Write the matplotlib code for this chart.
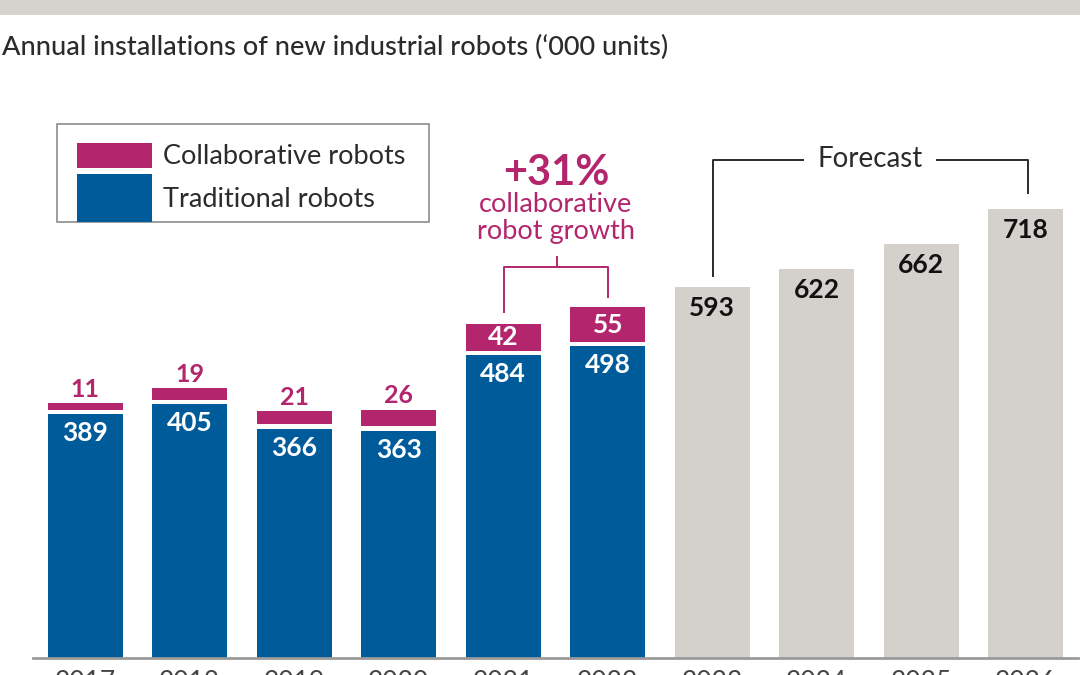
import matplotlib
matplotlib.use("Agg")
import matplotlib.pyplot as plt
from matplotlib.patches import Rectangle
from matplotlib.lines import Line2D

plt.rcParams['font.family'] = ['Lato', 'DejaVu Sans']

years = ['2017', '2018', '2019', '2020', '2021', '2022', '2023', '2024', '2025', '2026']
traditional = [389, 405, 366, 363, 484, 498]
collaborative = [11, 19, 21, 26, 42, 55]
forecast = [593, 622, 662, 718]

PINK = '#b3266e'
BLUE = '#005b9b'
GREY = '#d4d0cb'
DARK = '#2b2b2b'

W, H = 1080, 675
fig = plt.figure(figsize=(W / 100, H / 100), dpi=100)


def fx(x):
    return x / W


def fy(y):
    return 1 - y / H


# grey band across the top
fig.patches.append(Rectangle((0, fy(15)), 1, 15 / H, transform=fig.transFigure,
                             facecolor='#d6d2ce', edgecolor='none'))

fig.text(fx(2), fy(47), "Annual installations of new industrial robots (\u2018000 units)",
         fontsize=19.5, color=DARK, va='center', ha='left', fontweight='medium')

ax = fig.add_axes([fx(33), 17.5 / H, 1045 / W, 597 / H])
ax.set_xlim(-0.5, 9.5)
ax.set_ylim(0, 955)

n_hist = len(traditional)
xs_hist = list(range(n_hist))
xs_fc = list(range(n_hist, n_hist + len(forecast)))
bw = 0.72
gap = 7

ax.bar(xs_hist, traditional, width=bw, color=BLUE)
ax.bar(xs_hist, collaborative, width=bw, bottom=[t + gap for t in traditional], color=PINK)
ax.bar(xs_fc, forecast, width=bw, color=GREY)

pt = 0.72  # points per pixel
for x, t, c in zip(xs_hist, traditional, collaborative):
    ax.annotate(str(t), (x, t), xytext=(0, -19 * pt), textcoords='offset points',
                ha='center', va='center', color='white', fontsize=19, fontweight='bold')
    top = t + gap + c
    if c >= 40:
        ax.annotate(str(c), (x, t + gap + c / 2), ha='center', va='center',
                    color='white', fontsize=19, fontweight='bold')
    else:
        ax.annotate(str(c), (x, top), xytext=(0, 14 * pt), textcoords='offset points',
                    ha='center', va='center', color=PINK, fontsize=18, fontweight='bold')

for x, v in zip(xs_fc, forecast):
    ax.annotate(str(v), (x, v), xytext=(0, -21 * pt), textcoords='offset points',
                ha='center', va='center', color='#111111', fontsize=19, fontweight='bold')

for s in ['top', 'right', 'left']:
    ax.spines[s].set_visible(False)
ax.spines['bottom'].set_color('#9a9a9a')
ax.spines['bottom'].set_linewidth(2)
ax.set_yticks([])
ax.set_xticks(range(len(years)))
ax.set_xticklabels(years, fontsize=19, color='#444444')
ax.tick_params(axis='x', length=0, pad=9)

# legend drawn by hand
fig.patches.append(Rectangle((fx(57), fy(222)), 372 / W, 98 / H, transform=fig.transFigure,
                             facecolor='white', edgecolor='#8c8c8c', linewidth=1.2))
fig.patches.append(Rectangle((fx(77), fy(168)), 75 / W, 25 / H, transform=fig.transFigure,
                             facecolor=PINK, edgecolor='none'))
fig.patches.append(Rectangle((fx(77), fy(222)), 75 / W, 48 / H, transform=fig.transFigure,
                             facecolor=BLUE, edgecolor='none'))
fig.text(fx(163), fy(157), "Collaborative robots", fontsize=19.5, color=DARK, va='center')
fig.text(fx(163), fy(199), "Traditional robots", fontsize=19.5, color=DARK, va='center')

# +31% annotation and bracket
fig.text(fx(556), fy(173), "+31%", fontsize=30, color=PINK, fontweight='bold',
         ha='center', va='center')
fig.text(fx(556), fy(205), "collaborative", fontsize=19.5, color=PINK, ha='center', va='center')
fig.text(fx(556), fy(231), "robot growth", fontsize=19.5, color=PINK, ha='center', va='center')


def fig_line(xs, ys, color, lw):
    fig.lines.append(Line2D([fx(v) for v in xs], [fy(v) for v in ys],
                            transform=fig.transFigure, color=color, linewidth=lw))


fig_line([504, 504, 608, 608], [312, 267, 267, 297], PINK, 1.4)
fig_line([557, 557], [267, 257], PINK, 1.4)

# forecast bracket
fig_line([713, 713, 803], [276, 160, 160], DARK, 1.4)
fig_line([937, 1028, 1028], [160, 160, 193], DARK, 1.4)
fig.text(fx(870), fy(159), "Forecast", fontsize=20, color=DARK, ha='center', va='center')

fig.savefig("out.png", dpi=100)
